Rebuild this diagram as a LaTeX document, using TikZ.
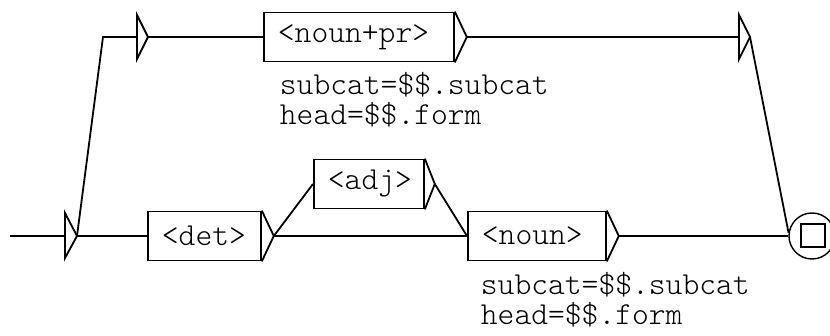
\documentclass[tikz,border=0pt]{standalone}
\usepackage{fontspec}
\setmonofont{Latin Modern Mono Light}
\begin{document}
\begin{tikzpicture}[x=1pt,y=-1pt,line width=1.8pt,
  font=\ttfamily\fontsize{32}{34}\selectfont,
  box/.style={draw, anchor=west, minimum height=49pt, inner xsep=14pt, inner ysep=0pt, align=left},
  lbl/.style={anchor=base west, inner sep=0pt}]
\useasboundingbox (0,0) rectangle (830,336);
% boxes
\node[box, text width=85pt] (det) at (147,236) {<det>};
\node[box, text width=82pt] (adj) at (313,184) {<adj>};
\node[box, text width=110pt] (noun) at (467,236) {<noun>};
\node[box, text width=162pt] (npr) at (263,37) {<noun+pr>};
% box output triangles
\draw (det.north east) -- ([xshift=12pt]det.east) coordinate (dett) -- (det.south east);
\draw (adj.north east) -- ([xshift=10pt]adj.east) coordinate (adjt) -- (adj.south east);
\draw (noun.north east) -- ([xshift=12pt]noun.east) coordinate (nount) -- (noun.south east);
\draw (npr.north east) -- ([xshift=12pt]npr.east) coordinate (nprt) -- (npr.south east);
% state triangles
\coordinate (s0b) at (65,236); \coordinate (s0) at (77,236);
\draw (65,213) -- (s0) -- (65,258) -- cycle;
\coordinate (s1b) at (137,37); \coordinate (s1) at (148,37);
\draw (137,15) -- (s1) -- (137,59) -- cycle;
\coordinate (s2b) at (739,37); \coordinate (s2) at (750,37);
\draw (739,15) -- (s2) -- (739,59) -- cycle;
% final state
\node[circle, draw, line width=1.4pt, minimum size=46pt, inner sep=0pt] (fin) at (812,236) {};
\node[draw, minimum width=24pt, minimum height=23pt, inner sep=0pt, line width=2.2pt] (finsq) at (813,235.5) {};
% connectors
\coordinate (start) at (10,236);
\coordinate (bend) at (103,37);
\draw (start) -- (s0b);
\draw (s0) -- (det.west);
\draw (s0) -- (bend) -- (s1b);
\draw (s1) -- (npr.west);
\draw (nprt) -- (s2b);
\draw (s2) -- (fin.172);
\draw (dett) -- (adj.west);
\draw (dett) -- (noun.west);
\draw (adjt) -- (noun.west);
\draw (nount) -- (fin.west);
% outputs
\node[lbl] (o1) at (279,95) {subcat=\$\$.subcat};
\node[lbl] (o2) at (279,125) {head=\$\$.form};
\node[lbl] (o3) at (480,295) {subcat=\$\$.subcat};
\node[lbl] (o4) at (480,325) {head=\$\$.form};
\end{tikzpicture}
\end{document}
